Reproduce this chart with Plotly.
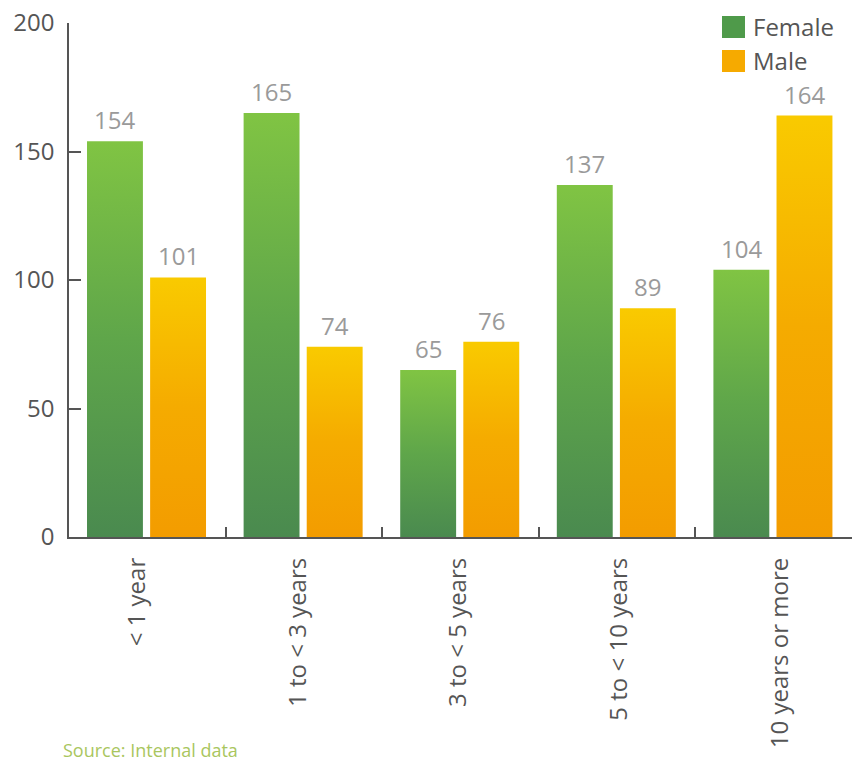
import plotly.graph_objects as go

# Length of service, by gender
categories = ["< 1 year", "1 to < 3 years", "3 to < 5 years", "5 to < 10 years", "10 years or more"]
female = [154, 165, 65, 137, 104]
male = [101, 74, 76, 89, 164]
y_ticks = [0, 50, 100, 150, 200]

# bar geometry within each category slot (slot width = 1)
BAR_W = 0.357
FEMALE_LEFT = -0.385
MALE_LEFT = 0.018

FEMALE_SCALE = [[0, "#4a8a4f"], [0.5, "#5fa64a"], [1, "#80c443"]]
MALE_SCALE = [[0, "#f39c00"], [0.5, "#f5ab00"], [1, "#f9ca00"]]

AXIS = "#555555"
FONT = "Open Sans"

fig = go.Figure()


def add_bar(i, value, left, scale):
    x0 = i + left
    x1 = x0 + BAR_W
    fig.add_trace(go.Scatter(
        x=[x0, x1, x1, x0, x0],
        y=[0, 0, value, value, 0],
        mode="lines",
        line=dict(width=0),
        fill="toself",
        fillgradient=dict(type="vertical", colorscale=scale, start=0, stop=value),
        showlegend=False,
        hoverinfo="skip",
    ))
    fig.add_annotation(
        x=(x0 + x1) / 2, y=value,
        xref="x", yref="y",
        xanchor="center", yanchor="bottom", yshift=3,
        text=str(value), showarrow=False,
        font=dict(family=FONT, size=24, color="#9a9a9a"),
    )


for i, (f, m) in enumerate(zip(female, male)):
    add_bar(i, f, FEMALE_LEFT, FEMALE_SCALE)
    add_bar(i, m, MALE_LEFT, MALE_SCALE)

# an invisible trace carries the category labels on their own axis
fig.add_trace(go.Scatter(
    x=list(range(len(categories))), y=[None] * len(categories),
    xaxis="x2", mode="markers", showlegend=False, hoverinfo="skip",
))

fig.update_layout(
    width=852,
    height=762,
    margin=dict(l=69, r=0, t=23, b=225),
    paper_bgcolor="white",
    plot_bgcolor="white",
    showlegend=False,
    hovermode=False,
    font=dict(family=FONT, color=AXIS, size=24),
    xaxis=dict(
        range=[-0.5, 4.5],
        tickmode="array",
        tickvals=[i + 0.5 for i in range(len(categories) - 1)],
        ticktext=[""] * (len(categories) - 1),
        ticks="inside",
        ticklen=10,
        tickwidth=1.5,
        tickcolor=AXIS,
        showgrid=False,
        zeroline=False,
        showline=True,
        linecolor=AXIS,
        linewidth=1.5,
    ),
    xaxis2=dict(
        overlaying="x",
        side="bottom",
        anchor="y",
        range=[-0.423, 4.448],
        tickmode="array",
        tickvals=list(range(len(categories))),
        ticktext=categories,
        tickangle=-90,
        ticks="",
        ticklabelstandoff=15,
        showgrid=False,
        zeroline=False,
        showline=False,
        tickfont=dict(family=FONT, size=24, color=AXIS),
    ),
    yaxis=dict(
        range=[0, 200],
        tickmode="array",
        tickvals=y_ticks,
        ticks="inside",
        ticklen=12,
        tickwidth=1.5,
        tickcolor=AXIS,
        ticklabelstandoff=8,
        showgrid=False,
        zeroline=False,
        showline=True,
        linecolor=AXIS,
        linewidth=1.5,
        tickfont=dict(family=FONT, size=24, color=AXIS),
    ),
)

# legend: colour swatches with labels in the top-right corner
legend_items = [("Female", "#4f9a4a", 27), ("Male", "#f6aa00", 61)]
for label, color, py in legend_items:
    yc = (537 - py) / 514
    half = 11 / 514
    fig.add_shape(
        type="rect", xref="paper", yref="paper",
        x0=(722 - 69) / 783, x1=(745 - 69) / 783,
        y0=yc - half, y1=yc + half,
        fillcolor=color, line=dict(width=0),
    )
    fig.add_annotation(
        xref="paper", yref="paper",
        x=(751 - 69) / 783, y=yc,
        xanchor="left", yanchor="middle",
        text=label, showarrow=False,
        font=dict(family=FONT, size=24, color=AXIS),
    )

fig.add_annotation(
    xref="paper", yref="paper",
    x=(61 - 69) / 783, y=(537 - 750) / 514,
    xanchor="left", yanchor="middle",
    text="Source: Internal data", showarrow=False,
    font=dict(family=FONT, size=18, color="#a9c65e"),
)

fig.write_html("out.html")
